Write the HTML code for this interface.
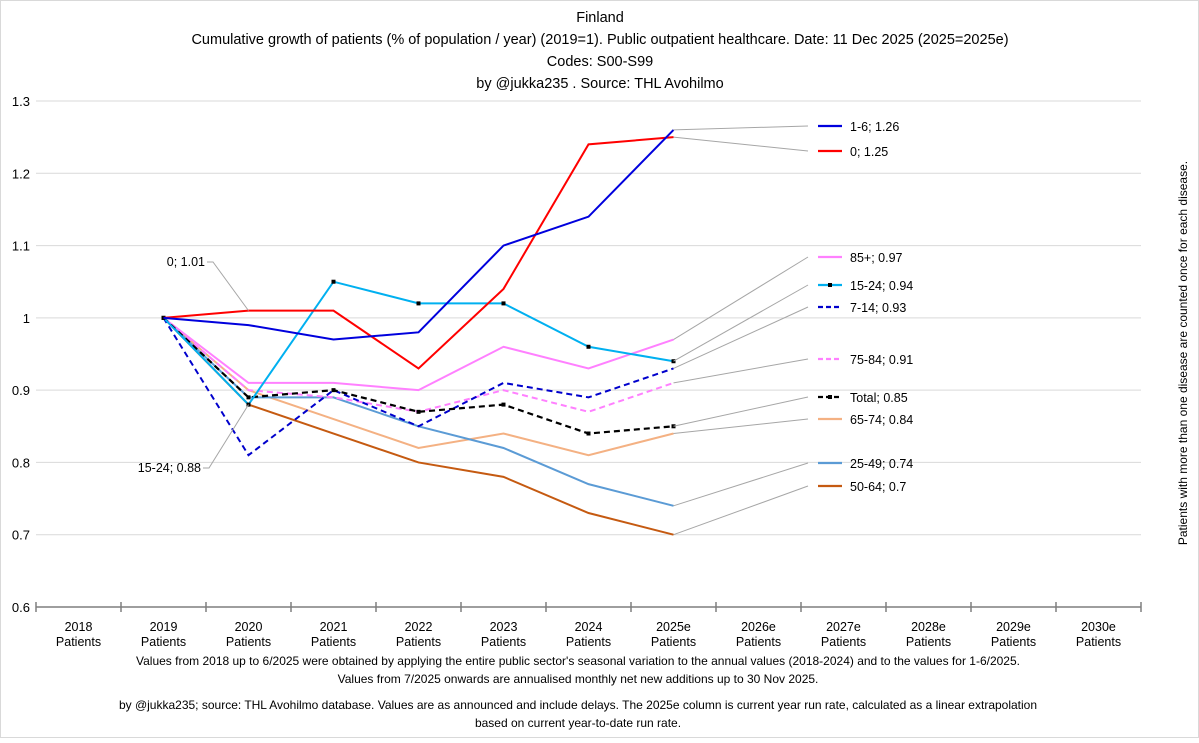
<!DOCTYPE html>
<html><head><meta charset="utf-8"><style>
body{margin:0;background:#fff;font-family:"Liberation Sans",sans-serif;}
svg text{font-family:"Liberation Sans",sans-serif;fill:#000;}
</style></head><body>
<svg id="c" width="1199" height="738" xmlns="http://www.w3.org/2000/svg">
<rect x="0.5" y="0.5" width="1198" height="737" fill="#fff" stroke="#d9d9d9"/>
<g font-size="14.5" text-anchor="middle">
<text x="600" y="22">Finland</text>
<text x="600" y="44">Cumulative growth of patients (% of population / year) (2019=1).  Public outpatient healthcare. Date: 11 Dec 2025 (2025=2025e)</text>
<text x="600" y="66">Codes: S00-S99</text>
<text x="600" y="88">by @jukka235 . Source: THL Avohilmo</text>
</g>
<text transform="translate(1187,353) rotate(-90)" font-size="12" text-anchor="middle">Patients with more than one disease are counted once for each disease.</text>
<g id="grid"></g><g id="series"></g><g id="legend"></g>
<g font-size="12" text-anchor="middle">
<text x="578" y="665">Values from 2018 up to 6/2025 were obtained by applying the entire public sector's seasonal variation to the annual values (2018-2024) and to the values for 1-6/2025.</text>
<text x="578" y="683">Values from 7/2025 onwards are annualised monthly net new additions up to 30 Nov 2025.</text>
<text x="578" y="709">by @jukka235; source: THL Avohilmo database. Values are as announced and include delays. The 2025e column is current year run rate, calculated as a linear extrapolation</text>
<text x="578" y="727">based on current year-to-date run rate.</text>
</g>
</svg>
<script>
const categories=["2018","2019","2020","2021","2022","2023","2024","2025e","2026e","2027e","2028e","2029e","2030e"];
const yTicks=[0.6,0.7,0.8,0.9,1,1.1,1.2,1.3];
const s_1_6=[null,1,0.99,0.97,0.98,1.10,1.14,1.26];
const s_0=[null,1,1.01,1.01,0.93,1.04,1.24,1.25];
const s_15_24=[null,1,0.88,1.05,1.02,1.02,0.96,0.94];
const s_85=[null,1,0.91,0.91,0.90,0.96,0.93,0.97];
const s_7_14=[null,1,0.81,0.90,0.85,0.91,0.89,0.93];
const s_75_84=[null,1,0.90,0.89,0.87,0.90,0.87,0.91];
const s_total=[null,1,0.89,0.90,0.87,0.88,0.84,0.85];
const s_65_74=[null,1,0.90,0.86,0.82,0.84,0.81,0.84];
const s_25_49=[null,1,0.89,0.89,0.85,0.82,0.77,0.74];
const s_50_64=[null,1,0.88,0.84,0.80,0.78,0.73,0.70];
const seriesNames=["1-6","0","85+","15-24","7-14","75-84","Total","65-74","25-49","50-64"];
const NS="http://www.w3.org/2000/svg";
const x0=36,step=85,yTop=101,yBot=607;
const X=i=>x0+step*(i+0.5);
const Y=v=>yBot-(v-0.6)/0.7*(yBot-yTop);
function mk(t,a,p){const e=document.createElementNS(NS,t);for(const k in a)e.setAttribute(k,a[k]);p.appendChild(e);return e;}
const grid=document.getElementById('grid');
yTicks.forEach(v=>{
 if(v>0.6){const l=mk('line',{x1:x0,x2:x0+step*13,y1:Y(v),y2:Y(v),stroke:'#d9d9d9'},grid);
 
 }
 const t=mk('text',{x:30,y:Y(v)+5,'font-size':13,'text-anchor':'end'},grid);t.textContent=String(v);
 
 
});
const ax=mk('line',{x1:x0,x2:x0+step*13,y1:yBot,y2:yBot,stroke:'#7f7f7f','stroke-width':1.5},grid);


for(let i=0;i<=13;i++){mk('line',{x1:x0+step*i,x2:x0+step*i,y1:yBot-5,y2:yBot+5,stroke:'#7f7f7f','stroke-width':1.5},grid);}
categories.forEach((c,i)=>{
 const t=mk('text',{x:X(i),y:631,'font-size':12.5,'text-anchor':'middle'},grid);t.textContent=c;
 
 
 const t2=mk('text',{x:X(i),y:646,'font-size':12.5,'text-anchor':'middle'},grid);t2.textContent='Patients';
 
 
});
const defs=[
 {d:s_65_74,c:'#f4b183',w:2,dash:'',lab:'65-74; 0.84',ly:419},
 {d:s_50_64,c:'#c55a11',w:2,dash:'',lab:'50-64; 0.7',ly:486},
 {d:s_25_49,c:'#5b9bd5',w:2,dash:'',lab:'25-49; 0.74',ly:463},
 {d:s_75_84,c:'#ff80ff',w:2,dash:'6,4',lab:'75-84; 0.91',ly:359},
 {d:s_85,c:'#ff80ff',w:2,dash:'',lab:'85+; 0.97',ly:257},
 {d:s_7_14,c:'#0000cc',w:2,dash:'6,4',lab:'7-14; 0.93',ly:307},
 {d:s_total,c:'#000',w:2.2,dash:'6,4',lab:'Total; 0.85',ly:397,m:true},
 {d:s_15_24,c:'#00b0f0',w:2,dash:'',lab:'15-24; 0.94',ly:285,m:true},
 {d:s_0,c:'#ff0000',w:2,dash:'',lab:'0; 1.25',ly:151},
 {d:s_1_6,c:'#0000dd',w:2,dash:'',lab:'1-6; 1.26',ly:126},
];
const sg=document.getElementById('series'),lg=document.getElementById('legend');
defs.forEach(s=>{
 const pts=[];s.d.forEach((v,i)=>{if(v!=null)pts.push([X(i),Y(v)]);});
 const last=pts[pts.length-1];
 const lead=mk('polyline',{points:`${last[0]},${last[1]} 808,${s.ly}`,fill:'none',stroke:'#a6a6a6','stroke-width':1},lg);
 
 
 const p=mk('polyline',{points:pts.map(q=>q.join(',')).join(' '),fill:'none',stroke:s.c,'stroke-width':s.w,'stroke-dasharray':s.dash},sg);
 
 
 if(s.m)pts.forEach(q=>mk('rect',{x:q[0]-2,y:q[1]-2,width:4,height:4,fill:'#000'},sg));
 const ll=mk('line',{x1:818,x2:842,y1:s.ly,y2:s.ly,stroke:s.c,'stroke-width':2.2,'stroke-dasharray':s.dash?'5,3':''},lg);
 
 
 if(s.m)mk('rect',{x:828,y:s.ly-2,width:4,height:4,fill:'#000'},lg);
 const t=mk('text',{x:850,y:s.ly+5,'font-size':12.5},lg);t.textContent=s.lab;
 
 
});
// callouts
const c1=mk('polyline',{points:`${X(2)},${Y(1.01)} 213,262 207,262`,fill:'none',stroke:'#a6a6a6'},lg);


const t1=mk('text',{x:205,y:266,'font-size':12.5,'text-anchor':'end'},lg);t1.textContent='0; 1.01';


const c2=mk('polyline',{points:`${X(2)},${Y(0.88)} 209,468 203,468`,fill:'none',stroke:'#a6a6a6'},lg);


const t2=mk('text',{x:201,y:472,'font-size':12.5,'text-anchor':'end'},lg);t2.textContent='15-24; 0.88';


</script>
</body></html>
